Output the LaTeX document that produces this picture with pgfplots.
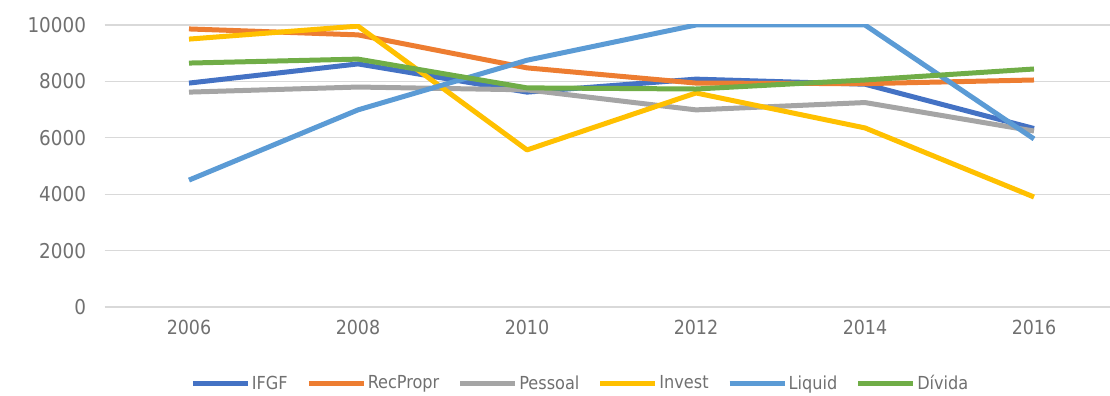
\documentclass[border=0pt]{standalone}
\usepackage{pgfplots}
\pgfplotsset{compat=1.18}
\usepackage{fontspec}
\setmainfont{DejaVu Sans Condensed}
\definecolor{cIFGF}{HTML}{4472C4}
\definecolor{cRec}{HTML}{ED7D31}
\definecolor{cPes}{HTML}{A5A5A5}
\definecolor{cInv}{HTML}{FFC000}
\definecolor{cLiq}{HTML}{5B9BD5}
\definecolor{cDiv}{HTML}{70AD47}
\definecolor{gridc}{HTML}{D9D9D9}
\definecolor{txtc}{HTML}{707070}
\begin{document}
\begin{tikzpicture}
\useasboundingbox (0,0) rectangle (1110bp,396bp);
\begin{axis}[
  at={(104.5bp,89bp)}, anchor=south west,
  scale only axis, width=1005.5bp, height=282bp,
  xmin=-0.5, xmax=5.45, ymin=0, ymax=10000,
  xtick={0,1,2,3,4,5},
  xticklabels={2006,2008,2010,2012,2014,2016},
  ytick={0,2000,4000,6000,8000,10000},
  scaled y ticks=false,
  /pgf/number format/assume math mode=true,
  /pgf/number format/1000 sep={},
  yticklabel style={font=\fontsize{20.5}{22}\selectfont, text=txtc, xshift=-15bp},
  xticklabel style={font=\fontsize{19.5}{22}\selectfont, text=txtc, yshift=-10bp},
  axis line style={draw=none},
  major tick length=0pt,
  ymajorgrids, grid style={gridc, line width=1.2bp},
  legend columns=6,
  legend style={draw=none, fill=none, at={(0.473,-0.27)}, anchor=center,
    font=\fontsize{18}{22}\selectfont, text=txtc,
    /tikz/every even column/.append style={column sep=17bp},
    /tikz/every odd column/.append style={column sep=0bp},
    inner sep=0pt, nodes={inner sep=1.5bp}},
  legend image code/.code={\draw[#1, line width=5bp] (0bp,0bp) -- (55bp,0bp);},
  every axis plot/.append style={line width=5bp, line join=round},
]
\addplot[cIFGF] coordinates {(0,7940) (1,8620) (2,7620) (3,8080) (4,7900) (5,6330)};
\addlegendentry{IFGF}
\addplot[cRec] coordinates {(0,9860) (1,9650) (2,8480) (3,7940) (4,7920) (5,8050)};
\addlegendentry{RecPropr}
\addplot[cPes] coordinates {(0,7620) (1,7800) (2,7700) (3,6990) (4,7250) (5,6240)};
\addlegendentry{Pessoal}
\addplot[cInv] coordinates {(0,9500) (1,9960) (2,5570) (3,7590) (4,6350) (5,3900)};
\addlegendentry{Invest}
\addplot[cLiq] coordinates {(0,4500) (1,6990) (2,8750) (3,10000) (4,10000) (5,5960)};
\addlegendentry{Liquid}
\addplot[cDiv] coordinates {(0,8650) (1,8790) (2,7770) (3,7730) (4,8050) (5,8440)};
\addlegendentry{Dívida}
\end{axis}
\end{tikzpicture}
\end{document}
